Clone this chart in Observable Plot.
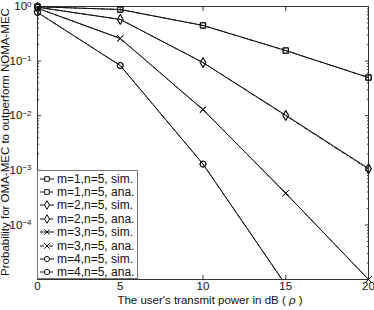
<!DOCTYPE html>
<html><head><meta charset="utf-8">
<script src="https://cdn.jsdelivr.net/npm/d3@7"></script>
<script src="https://cdn.jsdelivr.net/npm/@observablehq/plot@0.6"></script>
<style>
body{margin:0;background:#fff;font-family:"Liberation Sans",Arial,sans-serif;}
#wrap{position:relative;width:374px;height:310px;}
#legend{position:absolute;left:37px;top:170px;width:101px;height:109px;box-sizing:border-box;border:1px solid #777;background:#fff;padding-top:1px;}
.row{height:13.4px;display:flex;align-items:center;font-size:12px;white-space:nowrap;color:#111;}
.row svg{flex:none;margin-left:2px;margin-right:3px;}
.lab{position:absolute;font-size:11.5px;color:#111;white-space:nowrap;line-height:1;}
#ylab{left:6px;top:142px;transform:translate(-50%,-50%) rotate(-90deg);}
#xlab{left:210px;top:300.5px;transform:translate(-50%,-50%);}
</style></head><body><div id="wrap"></div>
<script>
// ---- data ----
const power = [0, 5, 10, 15, 20];
const seriesNames = ["m=1", "m=2", "m=3", "m=4"];
const m1Sim = [0.99, 0.88, 0.45, 0.156, 0.050];
const m1Ana = [0.99, 0.88, 0.45, 0.156, 0.050];
const m2Sim = [0.97, 0.58, 0.094, 0.0102, 0.00108];
const m2Ana = [0.97, 0.58, 0.094, 0.0100, 0.00105];
const m3Sim = [0.93, 0.26, 0.0129, 3.8e-4, 1.0e-5];
const m3Ana = [0.93, 0.26, 0.0129, 3.8e-4, 1.0e-5];
const m4Sim = [0.78, 0.083, 0.0013, 8e-6];
const m4Ana = [0.78, 0.083, 0.0013, 8e-6];
const symbols = ["square", "diamond", "times", "circle"];
const xTicks = [0, 5, 10, 15, 20];
const yMajor = [1, 1e-1, 1e-2, 1e-3, 1e-4, 1e-5];
const yLabelTicks = [1, 1e-1, 1e-2, 1e-3, 1e-4];
const yExponents = ["0", "-1", "-2", "-3", "-4"];
const xTitle = ["The user's transmit power in dB ( ", "ρ", " )"];
const yTitle = "Probability for OMA-MEC to outperform NOMA-MEC";
const legendLabels = ["m=1,n=5, sim.", "m=1,n=5, ana.", "m=2,n=5, sim.", "m=2,n=5, ana.",
                      "m=3,n=5, sim.", "m=3,n=5, ana.", "m=4,n=5, sim.", "m=4,n=5, ana."];
const yMinor = [];
for (let e = -5; e < 0; e++) for (let k = 2; k <= 9; k++) yMinor.push(k * Math.pow(10, e));

const simSets = [m1Sim, m2Sim, m3Sim, m4Sim];
const anaSets = [m1Ana, m2Ana, m3Ana, m4Ana];
const rows = (sets, kind) => sets.flatMap((vals, i) => vals.map((v, j) => ({x: power[j], y: v, series: seriesNames[i], kind})));
const sim = rows(simSets, "sim");
const ana = rows(anaSets, "ana");
const yMin = 1e-5;
const dash = "4,2,1,2";
const ink = "#111";

const plot = Plot.plot({
  width: 374, height: 310,
  marginTop: 6, marginRight: 6, marginBottom: 31, marginLeft: 37,
  style: {fontFamily: '"Liberation Sans", Arial, sans-serif', fontSize: "11.5px", color: ink, background: "#fff"},
  x: {domain: [0, 20]},
  y: {type: "log", domain: [1e-5, 1]},
  symbol: {domain: seriesNames, range: symbols},
  marks: [
    Plot.frame({stroke: "#333"}),
    Plot.axisX(xTicks, {anchor: "bottom", tickSize: 0, tickPadding: 2, tickFormat: d => String(d), label: null}),
    Plot.axisX(xTicks, {anchor: "bottom", tickSize: -4, tickFormat: () => "", label: null, stroke: "#333"}),
    Plot.axisX(xTicks, {anchor: "top", tickSize: -4, tickFormat: () => "", label: null, stroke: "#333"}),
    Plot.axisY(yLabelTicks, {anchor: "left", tickSize: 0, tickPadding: 6, tickFormat: d => "10^" + yExponents[yLabelTicks.indexOf(d)], label: null}),
    Plot.axisY(yMajor, {anchor: "left", tickSize: -4, tickFormat: () => "", label: null, stroke: "#333"}),
    Plot.axisY(yMajor, {anchor: "right", tickSize: -4, tickFormat: () => "", label: null, stroke: "#333"}),
    Plot.axisY(yMinor, {anchor: "left", tickSize: -2, tickFormat: () => "", label: null, stroke: "#333"}),
    Plot.axisY(yMinor, {anchor: "right", tickSize: -2, tickFormat: () => "", label: null, stroke: "#333"}),
    Plot.line(sim, {x: "x", y: "y", z: "series", stroke: ink, strokeWidth: 1, clip: true}),
    Plot.line(ana, {x: "x", y: "y", z: "series", stroke: ink, strokeWidth: 1, strokeDasharray: dash, clip: true}),
    Plot.dot(sim.filter(d => d.y >= yMin), {x: "x", y: "y", symbol: "series", stroke: ink, fill: "none", r: 3, strokeWidth: 1}),
    Plot.dot(ana.filter(d => d.y >= yMin), {x: "x", y: "y", symbol: "series", stroke: ink, fill: "none", r: 3, strokeWidth: 1})
  ]
});

// superscript exponents on y tick labels
plot.querySelectorAll('g[aria-label="y-axis tick label"] text').forEach(t => {
  const s = t.textContent;
  if (!s.startsWith("10^")) return;
  const exp = s.slice(3).replace("-", "\u2212");
  t.textContent = "";
  const base = document.createElementNS("http://www.w3.org/2000/svg", "tspan");
  base.textContent = "10";
  const sup = document.createElementNS("http://www.w3.org/2000/svg", "tspan");
  sup.textContent = exp;
  sup.setAttribute("dy", "-0.45em");
  sup.setAttribute("font-size", "8px");
  t.appendChild(base); t.appendChild(sup);
});

const wrap = document.getElementById("wrap");
wrap.appendChild(plot);

// axis titles
const ylab = document.createElement("div");
ylab.className = "lab"; ylab.id = "ylab"; ylab.textContent = yTitle;
wrap.appendChild(ylab);
const xlab = document.createElement("div");
xlab.className = "lab"; xlab.id = "xlab";
xlab.append(xTitle[0]);
const rho = document.createElement("i"); rho.textContent = xTitle[1]; xlab.append(rho);
xlab.append(xTitle[2]);
wrap.appendChild(xlab);

// legend inside the axes
const legend = document.createElement("div");
legend.id = "legend";
const sym = d3.scaleOrdinal(seriesNames, [d3.symbolSquare, d3.symbolDiamond, d3.symbolTimes, d3.symbolCircle]);
legendLabels.forEach((lab, i) => {
  const s = seriesNames[Math.floor(i / 2)];
  const isAna = i % 2 === 1;
  const row = document.createElement("div");
  row.className = "row";
  const svg = d3.create("svg").attr("width", 14).attr("height", 10);
  svg.append("line").attr("x1", 0).attr("x2", 14).attr("y1", 5).attr("y2", 5)
    .attr("stroke", ink).attr("stroke-width", 1).attr("stroke-dasharray", isAna ? dash : null);
  svg.append("path").attr("transform", "translate(7,5)").attr("d", d3.symbol(sym(s), Math.PI * 2.6 * 2.6)())
    .attr("fill", "#fff").attr("stroke", ink).attr("stroke-width", 1);
  row.appendChild(svg.node());
  const span = document.createElement("span");
  span.textContent = lab;
  row.appendChild(span);
  legend.appendChild(row);
});
wrap.appendChild(legend);
</script></body></html>
